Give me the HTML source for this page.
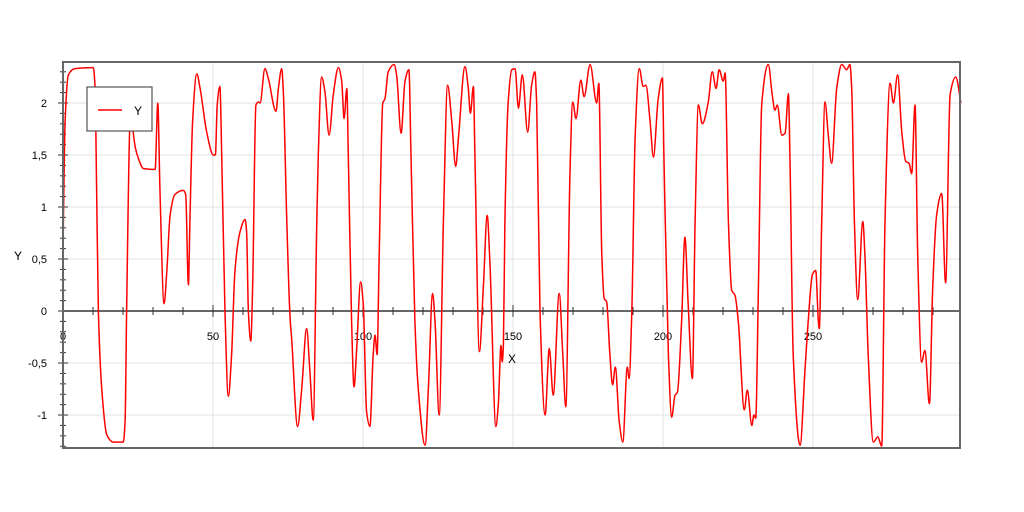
<!DOCTYPE html>
<html><head><meta charset="utf-8">
<style>
html,body{margin:0;padding:0;background:#fff;}
svg{display:block;font-family:"Liberation Sans",sans-serif;}
</style></head>
<body>
<svg id="chart" width="1024" height="512" viewBox="0 0 1024 512" xmlns="http://www.w3.org/2000/svg">
<g id="grid"></g>
<g id="axes"></g>
<g id="series"></g>
<rect x="63" y="62" width="897" height="386" fill="none" stroke="#666" stroke-width="2"/>
<text x="18" y="260" font-size="12" text-anchor="middle">Y</text>
<text x="512" y="363" font-size="12" text-anchor="middle">X</text>
<g>
<rect x="87" y="87" width="65" height="44" fill="#fff" stroke="#555" stroke-width="1.2"/>
<line x1="98" y1="110" x2="122" y2="110" stroke="#f00" stroke-width="1.5"/>
<text x="134" y="115" font-size="12">Y</text>
</g>
</svg>
<script>
const xValues=[0,0.7,1.8,4.0,10.1,10.7,11.2,11.8,12.9,14.6,16.8,20.1,20.7,21.2,22.3,22.9,23.4,25.1,26.8,30.7,31.6,32.3,33.7,34.6,35.7,37.3,40.1,40.9,41.8,42.3,43.2,44.6,45.7,47.9,50.1,50.8,51.4,52.3,52.9,54.0,55.1,56.2,57.3,59.0,60.7,61.2,61.8,62.6,63.2,64.3,65.1,65.7,67.3,68.4,71.0,71.8,72.9,73.4,74.6,75.7,
76.2,78.2,79.6,81.2,82.3,83.4,84.6,85.1,86.2,87.3,88.7,90.1,91.8,92.9,93.7,94.6,95.1,96.2,97.0,97.9,99.2,100.1,101.2,102.3,103.4,104.0,104.7,105.4,106.6,107.3,108.4,110.4,111.2,112.7,114.0,115.3,116.0,117.3,118.4,120.7,121.8,123.2,124.0,125.4,126.8,128.2,129.6,130.9,131.8,134.0,135.1,135.8,136.8,137.3,138.8,140.1,141.4,142.3,144.3,145.1,146.0,146.4,146.8,147.3,148.4,149.6,150.7,
151.8,153.1,154.9,156.2,157.3,157.9,159.0,160.7,162.1,163.4,165.4,166.6,167.6,169.0,169.9,171.0,172.6,173.7,175.7,177.9,178.6,179.6,180.4,181.2,182.3,183.2,184.1,185.4,186.6,188.1,188.7,189.6,190.7,192.1,193.4,194.3,195.7,196.8,198.4,199.8,200.3,201.8,202.9,204.0,204.8,206.2,207.3,208.4,209.8,210.7,211.8,213.1,215.1,216.4,217.7,218.7,220.1,220.7,221.8,222.9,224.0,
225.1,227.1,228.1,229.6,230.3,230.9,231.8,232.9,235.1,236.4,237.3,238.1,239.6,240.7,241.8,242.3,243.4,245.7,247.3,248.4,249.8,250.9,251.8,252.1,252.9,254.0,255.1,256.2,257.9,259.6,261.2,262.3,262.9,263.8,264.9,266.6,267.3,268.4,270.1,271.6,272.9,274.0,275.7,276.8,278.2,279.6,280.9,282.0,282.9,284.0,284.9,286.2,287.3,288.8,289.9,291.2,292.9,294.2,295.7,297.6,299.3];
const yValues=[0.6,1.82,2.27,2.33,2.34,2.14,1.18,-0.01,-0.74,-1.19,-1.26,-1.26,-1.06,-0.01,1.82,2.1,1.72,1.47,1.37,1.36,2.0,1.18,0.07,0.38,0.92,1.12,1.16,1.12,0.25,0.86,1.82,2.28,2.14,1.72,1.5,1.5,1.98,2.16,1.5,-0.01,-0.82,-0.42,0.38,0.76,0.88,0.76,-0.01,-0.29,0.22,1.98,2.01,2.0,2.33,2.24,1.92,2.14,2.33,2.14,0.86,-0.07,
-0.26,-1.11,-0.74,-0.17,-0.58,-1.05,0.86,1.5,2.25,2.11,1.69,2.08,2.34,2.21,1.85,2.14,1.5,-0.1,-0.73,-0.36,0.28,0.06,-0.97,-1.11,-0.42,-0.23,-0.42,0.54,2.0,2.04,2.3,2.37,2.27,1.71,2.21,2.32,1.5,-0.1,-0.74,-1.29,-0.74,0.17,-0.1,-1.0,0.86,2.17,1.82,1.39,1.66,2.35,2.14,1.9,2.16,1.5,-0.39,0.22,0.92,0.47,-1.11,-0.9,-0.33,-0.49,-0.33,0.86,2.01,2.32,2.33,
1.95,2.27,1.72,2.17,2.3,1.98,-0.01,-1.0,-0.36,-0.81,0.17,-0.42,-0.92,1.34,2.01,1.85,2.22,2.06,2.37,2.0,2.19,0.54,0.12,0.09,-0.42,-0.71,-0.54,-1.06,-1.26,-0.54,-0.65,-0.01,1.66,2.33,2.16,2.17,1.82,1.48,2.04,2.24,1.5,-0.42,-1.02,-0.81,-0.78,-0.1,0.71,0.06,-0.65,0.86,1.98,1.8,2.01,2.3,2.14,2.32,2.21,2.29,0.86,0.2,0.15,
-0.1,-0.95,-0.76,-1.1,-1.0,-1.03,0.22,1.98,2.37,2.08,1.93,1.98,1.69,1.71,2.09,1.5,-0.42,-1.29,-0.58,-0.1,0.35,0.39,-0.1,-0.17,0.86,2.01,1.69,1.42,2.14,2.37,2.32,2.37,2.14,0.86,0.11,0.86,0.54,-0.42,-1.26,-1.21,-1.3,0.86,2.19,2.0,2.27,1.72,1.44,1.42,1.32,1.98,0.54,-0.49,-0.38,-0.89,0.22,0.92,1.13,0.27,2.08,2.25,2.0];
const xTickLabels=["0","50","100","150","200","250"];
const xTickValues=[0,50,100,150,200,250];
const yTickLabels=["-1","-0,5","0","0,5","1","1,5","2"];
const yTickValues=[-1,-0.5,0,0.5,1,1.5,2];

const NS="http://www.w3.org/2000/svg";
const L=63,R=960,T=62,B=448,XMIN=0,XMAX=299,YMIN=-1.317,YMAX=2.394;
function sx(v){return L+(v-XMIN)/(XMAX-XMIN)*(R-L);}
function sy(v){return B-(v-YMIN)/(YMAX-YMIN)*(B-T);}
function mk(tag,attrs,parent){const e=document.createElementNS(NS,tag);for(const k in attrs)e.setAttribute(k,attrs[k]);parent.appendChild(e);return e;}
const grid=document.getElementById('grid'),axes=document.getElementById('axes'),series=document.getElementById('series');
yTickValues.forEach((v,i)=>{
  const g=mk('line',{x1:L,x2:R,y1:sy(v),y2:sy(v),stroke:'#e2e2e2','stroke-width':1},grid);
  
  
  const t=mk('text',{x:47,y:sy(v)+4,'font-size':11,'text-anchor':'end'},axes);
  t.textContent=yTickLabels[i];
  
  
});
xTickValues.forEach((v,i)=>{
  if(v>0){const g=mk('line',{x1:sx(v),x2:sx(v),y1:T,y2:B,stroke:'#e2e2e2','stroke-width':1},grid);
  
  }
  const t=mk('text',{x:sx(v),y:340,'font-size':11,'text-anchor':'middle'},axes);
  t.textContent=xTickLabels[i];
  
  
});
const xa=mk('line',{x1:L,x2:R,y1:sy(0),y2:sy(0),stroke:'#333','stroke-width':1.5},axes);


const ya=mk('line',{x1:L,x2:L,y1:T,y2:B,stroke:'#333','stroke-width':1.5},axes);


for(let v=10;v<XMAX;v+=10){
  const big=v%50===0;
  const tk=mk('line',{x1:sx(v),x2:sx(v),y1:sy(0)-(big?6:4),y2:sy(0)+(big?6:4),stroke:'#333','stroke-width':1},axes);
  
  
}
for(let k=-13;k<=23;k++){
  const v=k/10,big=k%5===0;
  const tk=mk('line',{x1:L-(big?5:3),x2:L+(big?5:3),y1:sy(v),y2:sy(v),stroke:'#333','stroke-width':1},axes);
  
  
}
// monotone cubic interpolation
const P=xValues.map((x,i)=>[sx(x),sy(yValues[i])]);
const n=P.length,dk=[],m=[];
for(let i=0;i<n-1;i++)dk.push((P[i+1][1]-P[i][1])/(P[i+1][0]-P[i][0]));
for(let i=0;i<n;i++){
  if(i===0)m.push(dk[0]);else if(i===n-1)m.push(dk[n-2]);
  else if(dk[i-1]*dk[i]<=0)m.push(0);
  else{const h0=P[i][0]-P[i-1][0],h1=P[i+1][0]-P[i][0];const w1=2*h1+h0,w2=h1+2*h0;m.push((w1+w2)/(w1/dk[i-1]+w2/dk[i]));}
}
let d='M'+P[0][0].toFixed(1)+','+P[0][1].toFixed(1);
for(let i=0;i<n-1;i++){
  const h=(P[i+1][0]-P[i][0])/3;
  d+='C'+(P[i][0]+h).toFixed(2)+','+(P[i][1]+m[i]*h).toFixed(2)+' '+(P[i+1][0]-h).toFixed(2)+','+(P[i+1][1]-m[i+1]*h).toFixed(2)+' '+P[i+1][0].toFixed(2)+','+P[i+1][1].toFixed(2);
}
const p=mk('path',{d:d,fill:'none',stroke:'#f00','stroke-width':1.5,'stroke-linejoin':'round'},series);


</script>
</body></html>
